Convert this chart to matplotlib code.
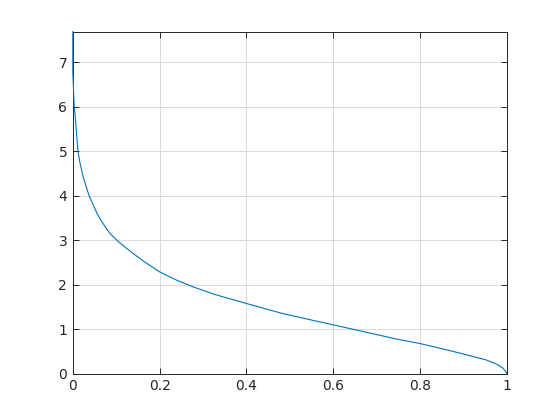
import matplotlib
matplotlib.use("Agg")
import matplotlib.pyplot as plt

# values
x_vals = [0.0, 0.0, 0.003, 0.005, 0.009, 0.012, 0.0165, 0.024, 0.0375, 0.056,
          0.0637, 0.0768, 0.087, 0.105, 0.125, 0.145, 0.163, 0.200, 0.240,
          0.278, 0.328, 0.400, 0.481, 0.558, 0.600, 0.669, 0.746, 0.800,
          0.861, 0.914, 0.953, 0.976, 0.991, 0.999, 1.000]
y_vals = [7.69, 6.78, 6.06, 5.84, 5.35, 5.00, 4.74, 4.42, 4.00, 3.60,
          3.47, 3.27, 3.14, 2.97, 2.81, 2.66, 2.53, 2.29, 2.10,
          1.95, 1.78, 1.58, 1.36, 1.19, 1.10, 0.95, 0.78, 0.68,
          0.54, 0.41, 0.31, 0.22, 0.13, 0.03, 0.00]
x_ticks = [0, 0.2, 0.4, 0.6, 0.8, 1]
x_labels = ["0", "0.2", "0.4", "0.6", "0.8", "1"]
y_ticks = [0, 1, 2, 3, 4, 5, 6, 7]

axis_color = "#262626"

fig = plt.figure(figsize=(5.6, 4.2), dpi=100)
ax = fig.add_axes([0.13, 0.11, 0.775, 0.815])
ax.plot(x_vals, y_vals, color="#0072BD", lw=0.8, clip_on=False, zorder=5)

ax.set_xlim(0, 1)
ax.set_ylim(0, max(y_vals))
ax.set_xticks(x_ticks)
ax.set_xticklabels(x_labels)
ax.set_yticks(y_ticks)
ax.grid(True, color="#DADADA", lw=0.7)
ax.set_axisbelow(True)

for side in ax.spines.values():
    side.set_color(axis_color)
    side.set_linewidth(0.7)
    side.set_zorder(4)
ax.tick_params(direction="in", length=4, width=0.7, colors=axis_color,
               labelsize=10, top=True, right=True, pad=4)

fig.savefig("out.png", dpi=100)
